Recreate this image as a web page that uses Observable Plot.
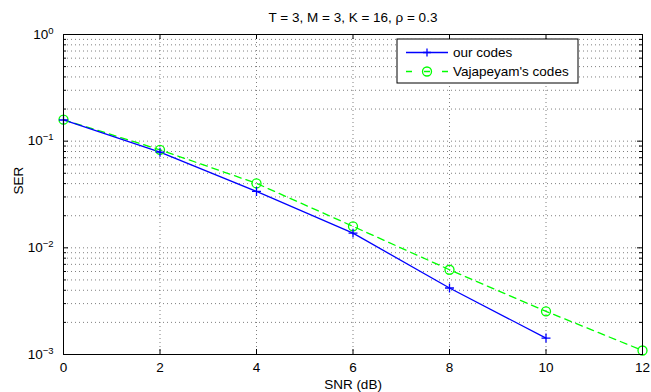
<!DOCTYPE html>
<html>
<head>
<meta charset="utf-8">
<script src="https://cdn.jsdelivr.net/npm/d3@7"></script>
<script src="https://cdn.jsdelivr.net/npm/@observablehq/plot@0.6"></script>
<style>
  html, body { margin: 0; padding: 0; background: white; }
  #chart svg { display: block; }
</style>
</head>
<body>
<div id="chart"></div>
<script>
// ---- data ----
const titleText = "T = 3, M = 3, K = 16, \u03C1 = 0.3";
const xLabel = "SNR (dB)";
const yLabel = "SER";
const seriesNames = ["our codes", "Vajapeyam's codes"];

const ourSNR = [0, 2, 4, 6, 8, 10];
const ourSER = [0.158, 0.0789, 0.0338, 0.01374, 0.0042, 0.001425];

const vajSNR = [0, 2, 4, 6, 8, 10, 12];
const vajSER = [0.159, 0.083, 0.0402, 0.0159, 0.00623, 0.00254, 0.00109];

const xTicks = [0, 2, 4, 6, 8, 10, 12];
const yTicks = [0.001, 0.01, 0.1, 1];
const yTickExponents = ["\u22123", "\u22122", "\u22121", "0"];
const yMinor = [];
for (const d of [0.001, 0.01, 0.1]) for (let m = 2; m <= 9; m++) yMinor.push(m * d);

const our = ourSNR.map((x, i) => ({x, y: ourSER[i]}));
const vaj = vajSNR.map((x, i) => ({x, y: vajSER[i]}));

const FONT = "'Liberation Sans', Arial, Helvetica, sans-serif";
const mL = 63, mR = 9, mT = 34, mB = 38, W = 651, H = 392;
const fw = W - mL - mR, fh = H - mT - mB;
const gridStyle = {stroke: "#000", strokeOpacity: 0.5, strokeWidth: 1, strokeDasharray: "1,3"};

const chart = Plot.plot({
  width: W, height: H,
  marginLeft: mL, marginRight: mR, marginTop: mT, marginBottom: mB,
  style: {fontFamily: FONT, fontSize: "13.5px", background: "white", color: "black"},
  x: {domain: [0, 12]},
  y: {type: "log", domain: [0.001, 1]},
  marks: [
    Plot.gridX(xTicks, gridStyle),
    Plot.gridY(yTicks.concat(yMinor), gridStyle),
    Plot.line(vaj, {x: "x", y: "y", stroke: "#00ff00", strokeWidth: 1.3, strokeDasharray: "7,5"}),
    Plot.line(our, {x: "x", y: "y", stroke: "#0000ff", strokeWidth: 1.3}),
    Plot.dot(vaj, {x: "x", y: "y", r: 4.5, stroke: "#00ff00", strokeWidth: 1.3, fill: "none"}),
    Plot.dot(our, {x: "x", y: "y", symbol: "plus", r: 3, stroke: "#0000ff", strokeWidth: 1.3}),
    Plot.frame({stroke: "black", strokeWidth: 1}),
    // inward ticks
    Plot.tickX(xTicks, {x: d => d, insetTop: fh - 5, stroke: "black"}),
    Plot.tickX(xTicks, {x: d => d, insetBottom: fh - 5, stroke: "black"}),
    Plot.tickY(yTicks, {y: d => d, insetRight: fw - 5, stroke: "black"}),
    Plot.tickY(yTicks, {y: d => d, insetLeft: fw - 5, stroke: "black"}),
    Plot.tickY(yMinor, {y: d => d, insetRight: fw - 3, stroke: "black"}),
    Plot.tickY(yMinor, {y: d => d, insetLeft: fw - 3, stroke: "black"}),
    Plot.axisX(xTicks, {tickSize: 0, tickPadding: 8, label: null, fontSize: 13.5}),
    Plot.axisY(yTicks, {tickSize: 0, tickPadding: 10, label: null, fontSize: 13.5,
      tickFormat: d => "10^" + yTickExponents[yTicks.indexOf(d)]}),
    Plot.text([xLabel], {frameAnchor: "bottom", dy: 30, lineAnchor: "middle", fontSize: 13.5}),
    Plot.text([yLabel], {frameAnchor: "left", rotate: -90, dx: -45, lineAnchor: "middle", fontSize: 13.5}),
    Plot.text([titleText], {frameAnchor: "top", dy: -17, lineAnchor: "middle", fontSize: 13.5})
  ]
});

// superscript exponents on y tick labels
d3.select(chart).selectAll("text").each(function() {
  const t = d3.select(this);
  const s = t.text();
  if (!s.startsWith("10^")) return;
  const exp = s.slice(3);
  t.text("10");
  t.append("tspan").attr("dy", "-0.55em").attr("font-size", "9.5px").text(exp);
});

// legend
const svg = d3.select(chart);
const lg = svg.append("g").attr("font-family", FONT).attr("font-size", "13.5px");
const lx = 397, ly = 39, lw = 181, lh = 44;
lg.append("rect").attr("x", lx).attr("y", ly).attr("width", lw).attr("height", lh)
  .attr("fill", "white").attr("stroke", "black").attr("stroke-width", 1);
const rows = [ly + 13.5, ly + 32.5];
// row 1
lg.append("line").attr("x1", 406).attr("x2", 448).attr("y1", rows[0]).attr("y2", rows[0])
  .attr("stroke", "#0000ff").attr("stroke-width", 1.3);
lg.append("path").attr("d", `M423,${rows[0]}h8M427,${rows[0]-4}v8`)
  .attr("stroke", "#0000ff").attr("stroke-width", 1.3).attr("fill", "none");
lg.append("text").attr("x", 453).attr("y", rows[0]).attr("dy", "0.35em")
  .attr("text-anchor", "start").attr("fill", "black").text(seriesNames[0]);
// row 2
lg.append("line").attr("x1", 406).attr("x2", 448).attr("y1", rows[1]).attr("y2", rows[1])
  .attr("stroke", "#00ff00").attr("stroke-width", 1.3).attr("stroke-dasharray", "6,12,6,12,6");
lg.append("circle").attr("cx", 427).attr("cy", rows[1]).attr("r", 4.5)
  .attr("stroke", "#00ff00").attr("stroke-width", 1.3).attr("fill", "none");
lg.append("text").attr("x", 453).attr("y", rows[1]).attr("dy", "0.35em")
  .attr("text-anchor", "start").attr("fill", "black").text(seriesNames[1]);

document.getElementById("chart").appendChild(chart);
</script>
</body>
</html>
